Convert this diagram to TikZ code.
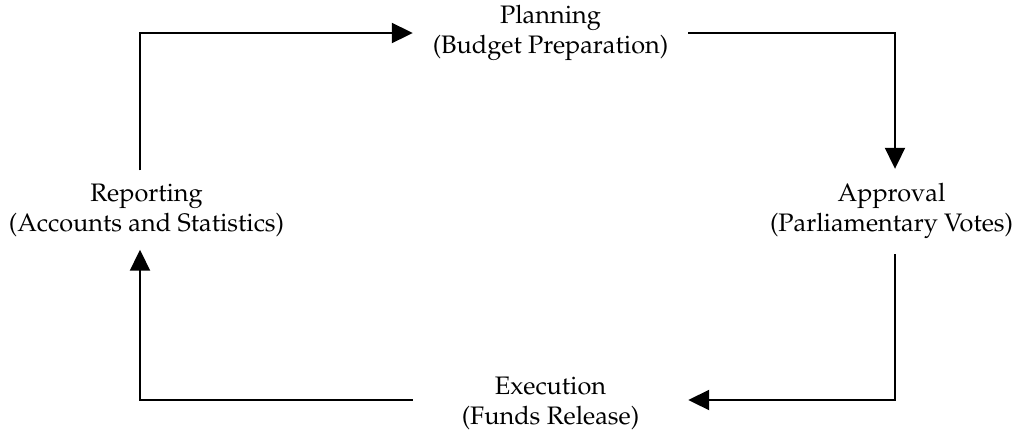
\documentclass[tikz,border=0pt]{standalone}
\usepackage[T1]{fontenc}
\usepackage{mathpazo}
\usetikzlibrary{arrows.meta}
\begin{document}
\begin{tikzpicture}[x=1pt,y=-1pt,
  stage/.style={align=center,inner sep=0pt,font=\fontsize{25.3}{30}\selectfont},
  hstage/.style={stage,minimum width=275pt},
  vstage/.style={stage,minimum height=83pt},
  flow/.style={line width=2pt,-{Triangle[length=21pt,width=20pt]}}]
  \useasboundingbox (0,0) rectangle (1015,432);
  \node[hstage] (plan) at (550.5,33) {Planning\\(Budget Preparation)};
  \node[vstage] (appr) at (891.5,210.5) {Approval\\(Parliamentary Votes)};
  \node[hstage] (exec) at (550.5,403.5) {Execution\\(Funds Release)};
  \node[vstage] (rep) at (146.5,210) {Reporting\\(Accounts and Statistics)};
  % the loop runs clockwise through the four stages
  \draw[flow] ([xshift=-6.5pt,yshift=-2pt]rep.north) |- (plan.west);
  \draw[flow] (plan.east) -| ([xshift=3.5pt]appr.north);
  \draw[flow] ([xshift=3.5pt,yshift=-2pt]appr.south) |- ([yshift=3.5pt]exec.east);
  \draw[flow] ([yshift=3.5pt]exec.west) -| ([xshift=-6.5pt,yshift=2pt]rep.south);
\end{tikzpicture}
\end{document}
